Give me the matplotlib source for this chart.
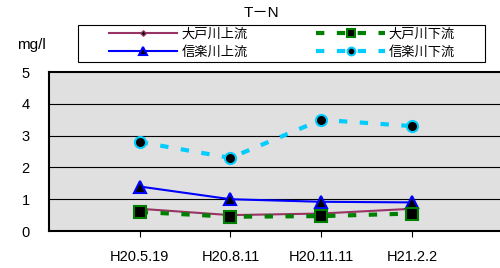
import matplotlib.pyplot as plt
from matplotlib.patches import Rectangle

plt.rcParams['font.family'] = ['Liberation Sans', 'Noto Sans CJK JP']

dates = ['H20.5.19', 'H20.8.11', 'H20.11.11', 'H21.2.2']
odo_up = [0.7, 0.5, 0.55, 0.7]
odo_down = [0.6, 0.45, 0.47, 0.55]
shiga_up = [1.4, 1.0, 0.92, 0.9]
shiga_down = [2.8, 2.3, 3.5, 3.3]

fig = plt.figure(figsize=(5, 2.68), dpi=100)
ax = fig.add_axes([0.098, 0.138, 0.902, 0.593])
ax.set_facecolor('#e0e0e0')

x = list(range(len(dates)))
l1, = ax.plot(x, odo_up, color='#993366', lw=1.5, marker='D', ms=4,
              mfc='black', mec='#993366', label='大戸川上流', zorder=3)
l2, = ax.plot(x, odo_down, color='#008000', lw=3, ls=(0, (2, 3)), marker='s', ms=8,
              mfc='black', mec='#008000', mew=1.5, label='大戸川下流', zorder=4)
l3, = ax.plot(x, shiga_up, color='#0000ff', lw=1.5, marker='^', ms=8,
              mfc='black', mec='#0000ff', mew=1.5, label='信楽川上流', zorder=3)
l4, = ax.plot(x, shiga_down, color='#00ccff', lw=3, ls=(0, (2, 3)), marker='o', ms=8,
              mfc='black', mec='#00ccff', mew=1.5, label='信楽川下流', zorder=3)

ax.set_xlim(-1, 3.97)
ax.set_ylim(0, 5)
ax.set_xticks(x)
ax.set_xticklabels(dates, fontsize=10.5)
ax.set_yticks(range(6))
ax.tick_params(axis='y', length=0, labelsize=10.5, pad=14)
ax.tick_params(axis='x', length=4, labelsize=10.5, pad=10)
for y in range(1, 5):
    ax.axhline(y, color='black', lw=0.8, zorder=1)
for s in ['left', 'bottom', 'top']:
    ax.spines[s].set_linewidth(1.5)
ax.spines['right'].set_visible(False)

fig.text(0.522, 0.951, 'T－N', ha='center', va='center', fontsize=11)
fig.text(0.062, 0.832, 'mg/l', ha='center', va='center', fontsize=11)

fig.patches.append(Rectangle((0.156, 0.769), 0.814, 0.138, transform=fig.transFigure,
                             fill=False, edgecolor='black', lw=0.8))
handles = [l1, l3, l2, l4]
leg = fig.legend(handles, [h.get_label() for h in handles],
                 loc='center', bbox_to_anchor=(0.564, 0.838),
                 ncol=2, fontsize=9.5, frameon=False,
                 handlelength=5.2, borderpad=0, columnspacing=5.2,
                 labelspacing=0.45, handletextpad=0.3, markerscale=0.7)

plt.savefig('out.png', dpi=100)
